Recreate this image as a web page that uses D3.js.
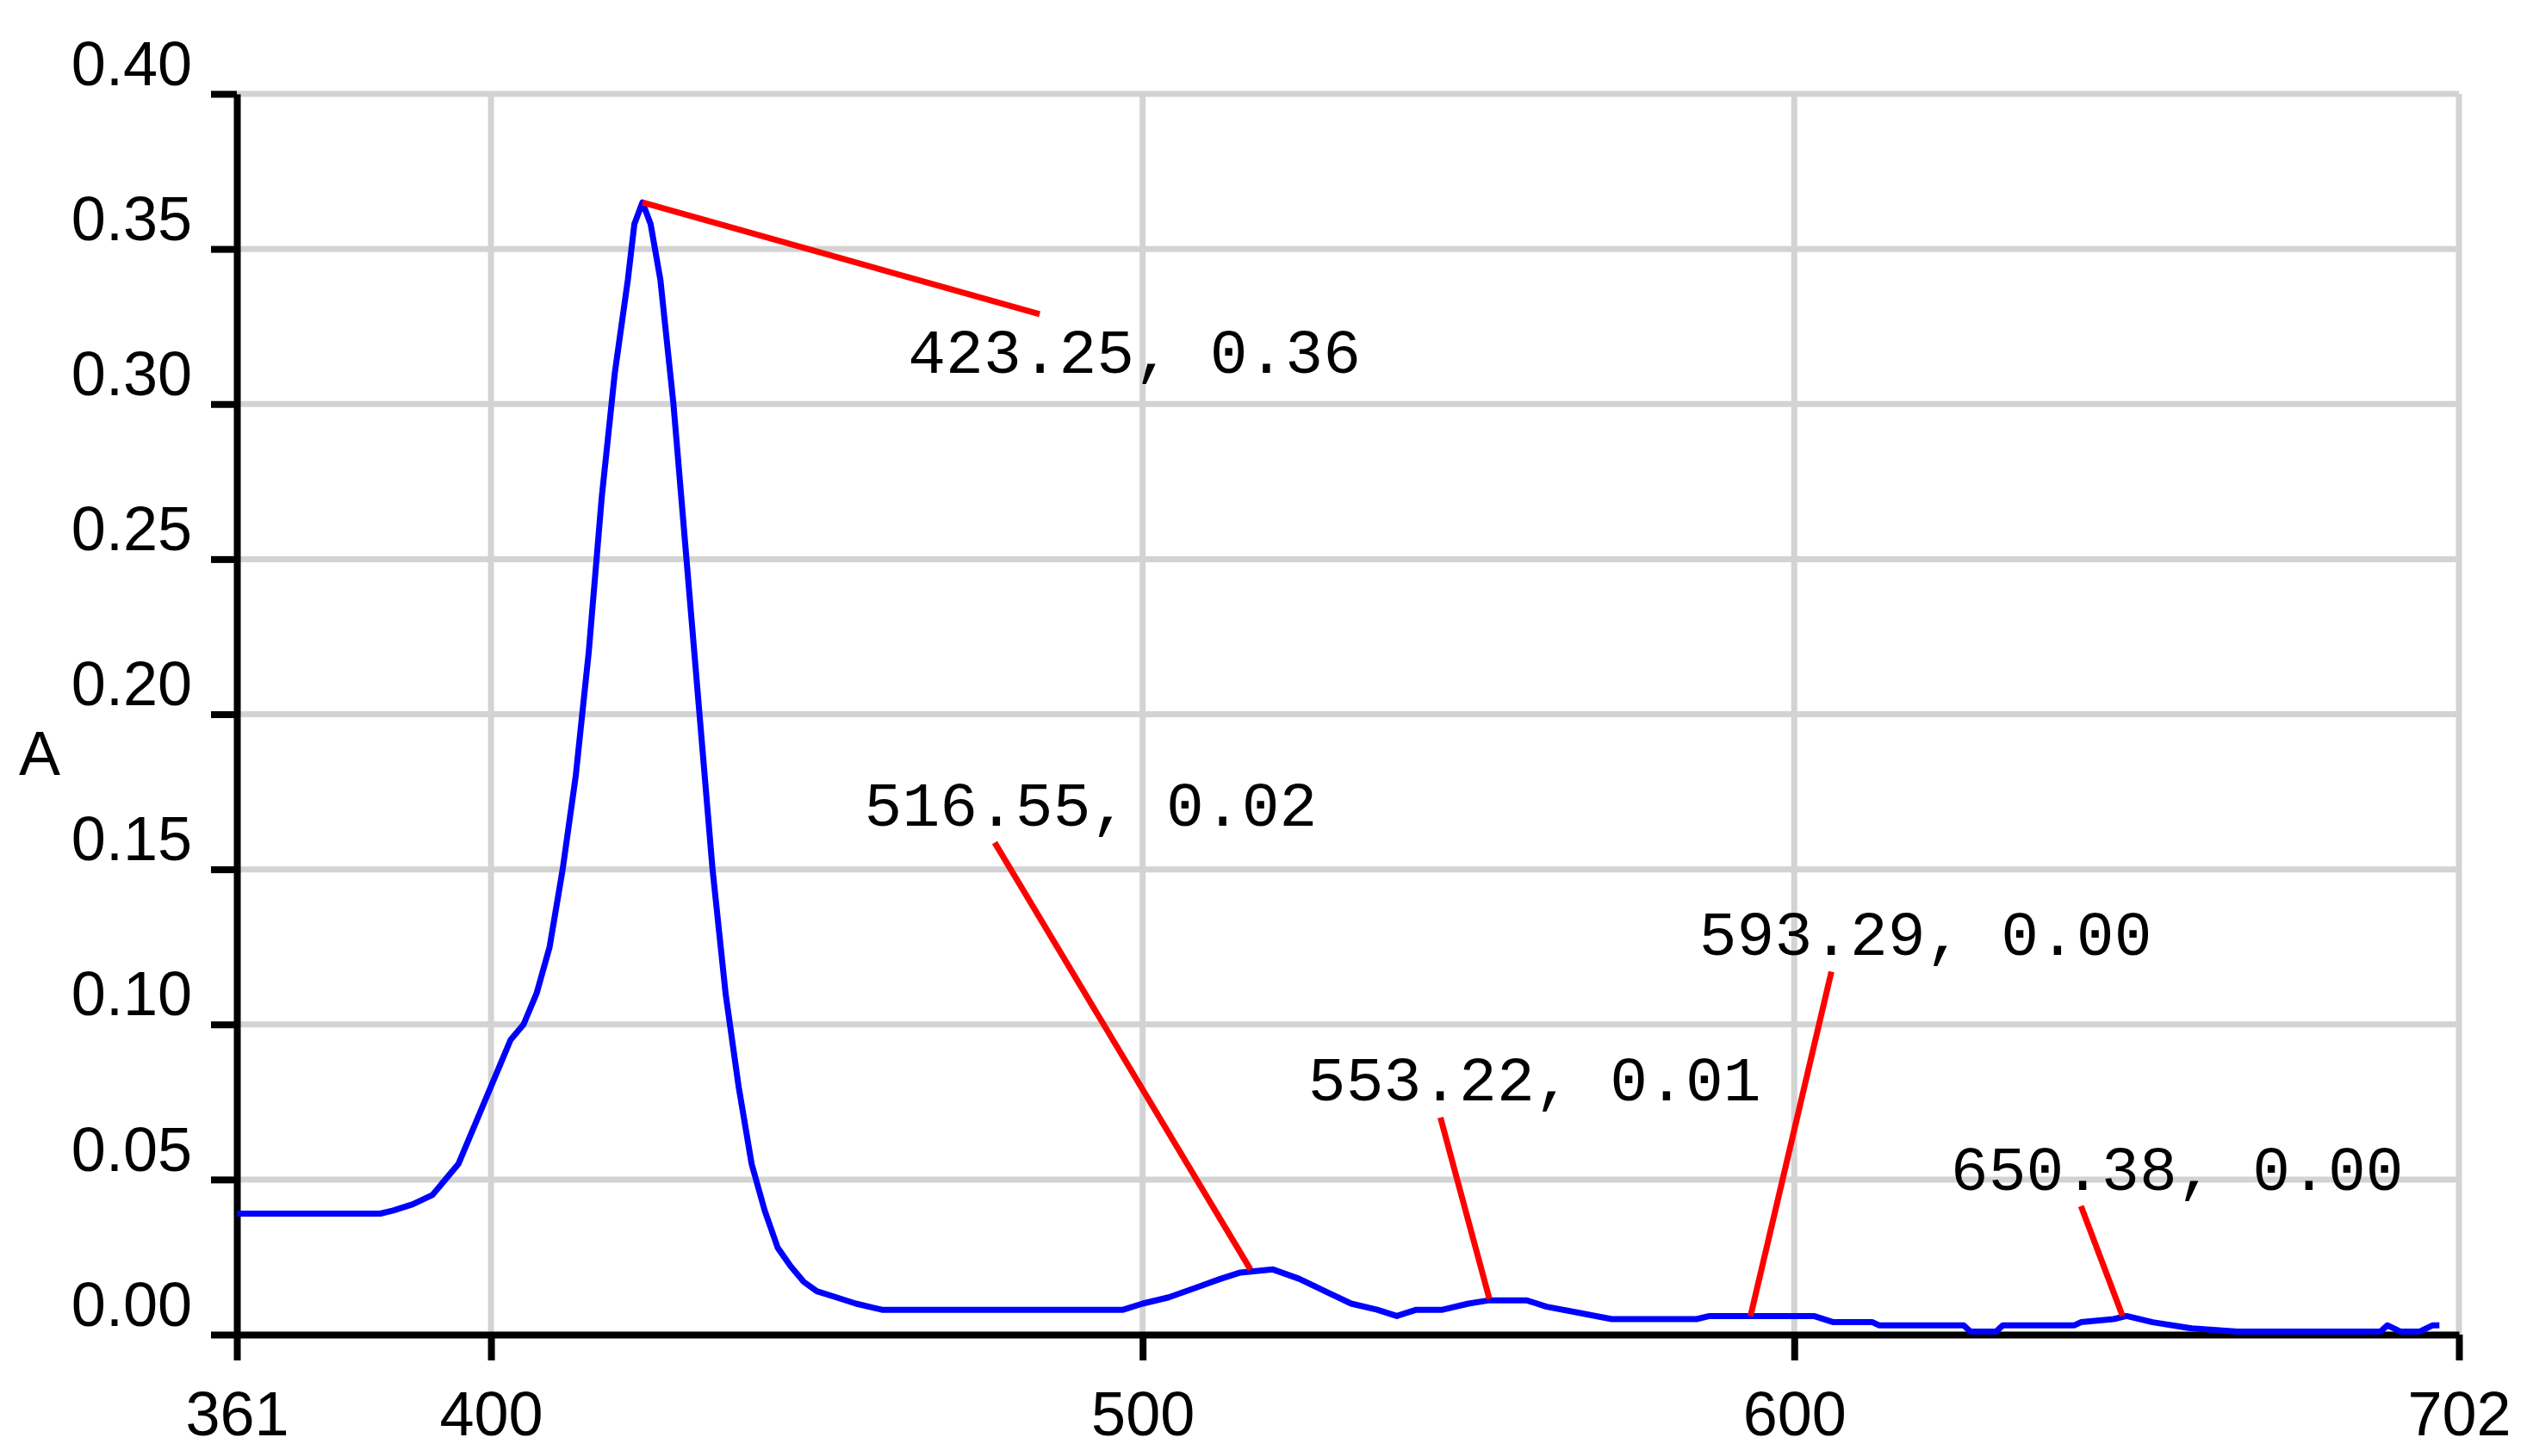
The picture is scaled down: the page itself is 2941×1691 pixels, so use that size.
<!DOCTYPE html>
<html>
<head>
<meta charset="utf-8">
<script src="https://cdn.jsdelivr.net/npm/d3@7"></script>
<style>
body { margin: 0; background: #fff; }
</style>
</head>
<body>
<div id="chart"></div>
<script>
// spectrum, wavelength (nm) vs absorbance
let wavelength = [361, 383, 385, 388, 391, 393, 395, 396, 398, 400, 402, 403, 405, 407, 409, 411, 413, 415, 417, 419, 421, 422, 423.25, 424.5, 426, 428, 430, 432, 434, 436, 438, 440, 442, 444, 446, 448, 450, 453, 456, 460, 497, 500, 504, 508, 512, 515, 520, 524, 528, 532, 536, 539, 542, 546, 550, 553, 559, 562, 567, 572, 585, 587, 603, 606, 612, 613, 626, 627, 631, 632, 643, 644, 649, 651, 655, 661, 668, 690, 691, 693, 696, 698, 699];
let absorbance = [0.039, 0.039, 0.040, 0.042, 0.045, 0.050, 0.055, 0.060, 0.070, 0.080, 0.090, 0.095, 0.100, 0.110, 0.125, 0.150, 0.180, 0.220, 0.270, 0.310, 0.340, 0.358, 0.365, 0.358, 0.340, 0.300, 0.250, 0.200, 0.150, 0.110, 0.080, 0.055, 0.040, 0.028, 0.022, 0.017, 0.014, 0.012, 0.010, 0.008, 0.008, 0.010, 0.012, 0.015, 0.018, 0.020, 0.021, 0.018, 0.014, 0.010, 0.008, 0.006, 0.008, 0.008, 0.010, 0.011, 0.011, 0.009, 0.007, 0.005, 0.005, 0.006, 0.006, 0.004, 0.004, 0.003, 0.003, 0.001, 0.001, 0.003, 0.003, 0.004, 0.005, 0.006, 0.004, 0.002, 0.001, 0.001, 0.003, 0.001, 0.001, 0.003, 0.003];

// peak labels: peak point, end of leader line, text anchor
let peakX = [423.25, 516.55, 553.22, 593.29, 650.38];
let peakY = [0.365, 0.021, 0.0115, 0.006, 0.006];
let leaderX = [484.2, 477.3, 545.7, 605.7, 644.0];
let leaderY = [0.329, 0.1586, 0.070, 0.117, 0.0414];
let textX = [464.0, 457.3, 525.4, 585.4, 624.0];
let textY = [0.310, 0.164, 0.0754, 0.1225, 0.0466];
let peakText = ["423.25, 0.36", "516.55, 0.02", "553.22, 0.01", "593.29, 0.00", "650.38, 0.00"];

let xTicks = [361, 400, 500, 600, 702];
let yTicks = [0, 0.05, 0.10, 0.15, 0.20, 0.25, 0.30, 0.35, 0.40];

let width = 2941, height = 1691;
let margin = {top: 109, right: 86, bottom: 141, left: 275};

let svg = d3.select("#chart")
    .append("svg")
    .attr("width", width)
    .attr("height", height);

let x = d3.scaleLinear().domain([361, 702]).range([margin.left, width - margin.right]);
let y = d3.scaleLinear().domain([0, 0.40]).range([height - margin.bottom, margin.top]);

// grid
svg.append("g")
    .selectAll("line")
    .data(xTicks.slice(1))
    .enter().append("line")
    .attr("x1", d => x(d)).attr("x2", d => x(d))
    .attr("y1", y(0)).attr("y2", y(0.40))
    .style("stroke", "#d3d3d3").style("stroke-width", 7);

svg.append("g")
    .selectAll("line")
    .data(yTicks.slice(1))
    .enter().append("line")
    .attr("x1", x(361)).attr("x2", x(702))
    .attr("y1", d => y(d)).attr("y2", d => y(d))
    .style("stroke", "#d3d3d3").style("stroke-width", 7);

// axes
let xAxis = svg.append("g")
    .attr("transform", "translate(0," + y(0) + ")")
    .call(d3.axisBottom(x).tickValues(xTicks).tickFormat(d3.format("d")).tickSizeInner(30).tickSizeOuter(0).tickPadding(36));

let yAxis = svg.append("g")
    .attr("transform", "translate(" + x(361) + ",0)")
    .call(d3.axisLeft(y).tickValues(yTicks).tickFormat(d3.format(".2f")).tickSizeInner(30).tickSizeOuter(0).tickPadding(22));

[xAxis, yAxis].forEach(function (a) {
    a.select(".domain").style("stroke", "#000").style("stroke-width", 8);
    a.selectAll(".tick line").style("stroke", "#000").style("stroke-width", 8);
    a.selectAll(".tick text")
        .style("font-family", "'Liberation Sans', Arial, sans-serif")
        .style("font-size", "72px")
        .style("fill", "#000");
});
yAxis.selectAll(".tick text").attr("dy", "-0.15em");

svg.append("text")
    .attr("x", 46)
    .attr("y", 900)
    .attr("text-anchor", "middle")
    .style("font-family", "'Liberation Sans', Arial, sans-serif")
    .style("font-size", "72px")
    .text("A");

// spectrum line
let valueline = d3.line()
    .x(d => x(d[0]))
    .y(d => y(d[1]));

svg.append("path")
    .datum(wavelength.map((w, i) => [w, absorbance[i]]))
    .attr("d", valueline)
    .style("fill", "none")
    .style("stroke", "#0000ff")
    .style("stroke-width", 7)
    .style("stroke-linejoin", "round");

// peak labels
peakX.forEach(function (px, i) {
    svg.append("line")
        .attr("x1", x(px)).attr("y1", y(peakY[i]))
        .attr("x2", x(leaderX[i])).attr("y2", y(leaderY[i]))
        .style("stroke", "#ff0000")
        .style("stroke-width", 7);

    svg.append("text")
        .attr("x", x(textX[i]))
        .attr("y", y(textY[i]))
        .style("font-family", "'Liberation Mono', 'Courier New', monospace")
        .style("font-size", "73px")
        .style("fill", "#000")
        .text(peakText[i]);
});
</script>
</body>
</html>
